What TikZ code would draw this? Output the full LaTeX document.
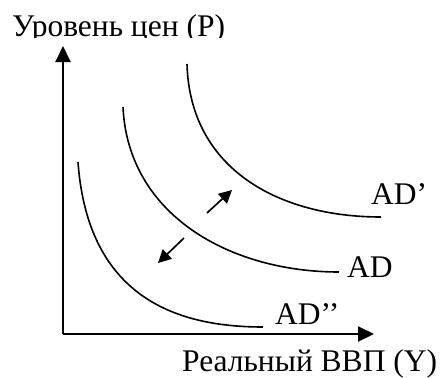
\documentclass[tikz,border=0pt]{standalone}
\usepackage{fontspec}
\setmainfont{Liberation Serif}
\usetikzlibrary{arrows.meta,positioning}

\begin{document}
\begin{tikzpicture}[x=1pt,y=-1pt,>=Latex,
axis/.style={line width=2pt,-{Triangle[length=16pt,width=15pt]}},
demand/.style={line width=1.6pt},
shift arrow/.style={line width=1.7pt,-{Triangle[length=13pt,width=13pt]}},
curve label/.style={anchor=base west,inner sep=0pt,font=\fontsize{31.5}{36}\selectfont}]
\useasboundingbox (0,0) rectangle (440,378);
% axes
\coordinate (O) at (63,334);
\coordinate (ytop) at (63,46);
\coordinate (xend) at (374,334);
\draw[axis] (O) -- (ytop);
\draw[axis] (O) -- (xend);
\begin{scope}
\clip (0,0) rectangle (440,37);
\node[curve label] (ptitle) at (12,36) {Уровень цен (P)};
\end{scope}
\node[curve label] (ytitle) at (182,371) {Реальный ВВП (Y)};
% demand curves
\coordinate (ad2a) at (78,162);
\coordinate (ad2b) at (263,327);
\coordinate (ad0a) at (123,107);
\coordinate (ad0b) at (339,272);
\coordinate (ad1a) at (187,64);
\coordinate (ad1b) at (381,217);
\draw[demand] (ad2a) .. controls (88,300) and (180,327) .. (ad2b);
\draw[demand] (ad0a) .. controls (128,215) and (230,272) .. (ad0b);
\draw[demand] (ad1a) .. controls (190,170) and (280,217) .. (ad1b);
\node[curve label] (ad1) at (371,204) {AD’};
\node[curve label] (ad0) at (347,277) {AD};
\node[curve label] (ad2) at (275,324) {AD’’};
% shifts
\coordinate (up0) at (207,213);
\coordinate (up1) at (232,190);
\coordinate (dn0) at (184,238);
\coordinate (dn1) at (158,263);
\draw[shift arrow] (up0) -- (up1);
\draw[shift arrow] (dn0) -- (dn1);
\end{tikzpicture}
\end{document}
